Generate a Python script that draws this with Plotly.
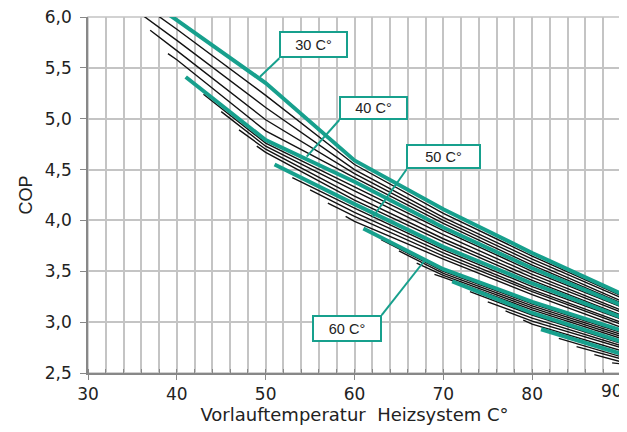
import plotly.graph_objects as go

# Source-temperature curves (30 ... 88 °C), teal every 10 °C
sources = [30, 32, 34, 36, 38, 40, 42, 44, 46, 48, 50, 52, 54, 56, 58,
           60, 62, 64, 66, 68, 70, 72, 74, 76, 78, 80, 82, 84, 86, 88]
start_x = [35, 35, 35, 37, 39, 41, 43, 45, 47, 49, 51, 53, 55, 57, 59,
           61, 63, 65, 67, 69, 71, 73, 75, 77, 79, 81, 83, 85, 87, 89]
start_y = [6.27, 6.19, 6.09, 5.87, 5.64, 5.41, 5.24, 5.07, 4.89, 4.73,
           4.55, 4.42, 4.30, 4.17, 4.04, 3.92, 3.81, 3.70, 3.58, 3.47,
           3.40, 3.30, 3.20, 3.11, 3.02, 2.93, 2.84, 2.76, 2.68, 2.60]
grid_x = [40, 50, 60, 70, 80, 90]
N = None
cop_40 = [5.97, 5.88, 5.77, 5.67, 5.58] + [N] * 25
cop_50 = [5.35, 5.23, 5.11, 4.99, 4.88, 4.79, 4.76, 4.73, 4.70, 4.67] + [N] * 20
cop_60 = [4.59, 4.55, 4.50, 4.46, 4.42, 4.38, 4.33, 4.29, 4.24, 4.20,
          4.16, 4.12, 4.08, 4.04, 3.99] + [N] * 15
cop_70 = [4.11, 4.07, 4.03, 4.00, 3.97, 3.93, 3.90, 3.86, 3.82, 3.79,
          3.74, 3.71, 3.68, 3.65, 3.62, 3.52, 3.50, 3.48, 3.46, 3.44] + [N] * 10
cop_80 = [3.68, 3.65, 3.62, 3.59, 3.56, 3.53, 3.50, 3.47, 3.44, 3.41,
          3.38, 3.35, 3.32, 3.30, 3.27, 3.20, 3.18, 3.16, 3.14, 3.12,
          3.09, 3.07, 3.04, 3.01, 2.98] + [N] * 5
cop_90 = [3.28, 3.26, 3.24, 3.21, 3.19, 3.17, 3.15, 3.12, 3.10, 3.07,
          3.05, 3.03, 3.00, 2.98, 2.95, 2.92, 2.90, 2.88, 2.86, 2.84,
          2.81, 2.79, 2.77, 2.75, 2.72, 2.69, 2.66, 2.64, 2.61, 2.59]
grid_cols = [cop_40, cop_50, cop_60, cop_70, cop_80, cop_90]

x_tickvals = [30, 40, 50, 60, 70, 80, 90]
x_ticktext = ["30", "40", "50", "60", "70", "80", ""]
last_tick_text = "90"

label_texts = ["30 C°", "40 C°", "50 C°", "60 C°"]
label_x = [55.42, 62.17, 69.99, 59.12]
label_y = [5.728, 5.106, 4.627, 2.939]
label_w = [65, 65, 71, 66]
label_h = [23, 20, 21, 23]
conn_x0 = [51.54, 58.29, 65.87, 63.06]
conn_y0 = [5.594, 4.987, 4.503, 3.070]
conn_x1 = [49.36, 54.62, 62.08, 67.94]
conn_y1 = [5.413, 4.627, 4.034, 3.611]

TEAL = "#17a08d"
FONT = "Liberation Sans, Arial, sans-serif"
AXFONT = "DejaVu Sans, Liberation Sans, sans-serif"

fig = go.Figure()


def curve(i):
    xs = [start_x[i]]
    ys = [start_y[i]]
    for gx, col in zip(grid_x, grid_cols):
        if gx > start_x[i] and col[i] is not None:
            xs.append(gx)
            ys.append(col[i])
    return xs, ys


# black lines first, teal on top
for i, s in enumerate(sources):
    if s % 10 != 0:
        xs, ys = curve(i)
        fig.add_trace(go.Scatter(x=xs, y=ys, mode="lines",
                                 line=dict(color="#111111", width=1.4),
                                 hoverinfo="skip", showlegend=False))
for i, s in enumerate(sources):
    if s % 10 == 0:
        xs, ys = curve(i)
        fig.add_trace(go.Scatter(x=xs, y=ys, mode="lines",
                                 line=dict(color=TEAL, width=4),
                                 hoverinfo="skip", showlegend=False))

for k, t in enumerate(label_texts):
    fig.add_shape(type="line", x0=conn_x0[k], y0=conn_y0[k], x1=conn_x1[k], y1=conn_y1[k],
                  xref="x", yref="y", line=dict(color=TEAL, width=2))
    fig.add_annotation(x=label_x[k], y=label_y[k], xref="x", yref="y", text=t,
                       showarrow=False, bgcolor="white", bordercolor=TEAL,
                       borderwidth=2, borderpad=0, width=label_w[k], height=label_h[k],
                       font=dict(family=FONT, size=14.5, color="#222222"))

# last x tick label pulled inside the figure, as in the source
fig.add_annotation(x=0.983, y=0, xref="paper", yref="paper", text=last_tick_text,
                   showarrow=False, xanchor="center", yanchor="top", yshift=-6,
                   font=dict(family=AXFONT, size=17, color="#222222"))

# page body has an 8px margin, so the figure is 8px smaller and margins shifted
fig.update_layout(
    width=619, height=424,
    margin=dict(l=80, r=6, t=9, b=59, autoexpand=False),
    paper_bgcolor="white", plot_bgcolor="white",
    separators=", ",
    font=dict(family=FONT, color="#222222"),
    xaxis=dict(range=[30, 90], tickvals=x_tickvals, ticktext=x_ticktext, automargin=False,
               ticklabeloverflow="allow",
               showgrid=True, gridcolor="#c4c4c4", gridwidth=1.5,
               minor=dict(dtick=2, tick0=30, showgrid=True, gridcolor="#c4c4c4", gridwidth=1.5,
                          ticks="inside", ticklen=4, tickcolor="#888888"),
               showline=True, linecolor="#888888", linewidth=1.5,
               ticks="outside", ticklen=5, tickcolor="#888888",
               tickfont=dict(size=17, family=AXFONT, color="#222222"),
               title=dict(text="Vorlauftemperatur  Heizsystem C°",
                          font=dict(size=18, family=AXFONT, color="#222222"), standoff=3),
               zeroline=False),
    yaxis=dict(range=[2.5, 6.0], dtick=0.5, tick0=2.5, tickformat=".1f", automargin=False,
               ticklabeloverflow="allow",
               showgrid=True, gridcolor="#c4c4c4", gridwidth=1.5,
               showline=True, linecolor="#888888", linewidth=1.5,
               ticks="outside", ticklen=6, tickcolor="#888888", ticklabelstandoff=5,
               tickfont=dict(size=17, family=AXFONT, color="#222222"),
               title=dict(text="COP", font=dict(size=18, family=FONT, color="#222222"),
                          standoff=8),
               zeroline=False),
)

# light frame top/right like the source
fig.add_shape(type="rect", xref="paper", yref="paper", x0=0, y0=0, x1=1, y1=1,
              line=dict(color="#c4c4c4", width=1.5), layer="below")

fig.write_html("out.html")
